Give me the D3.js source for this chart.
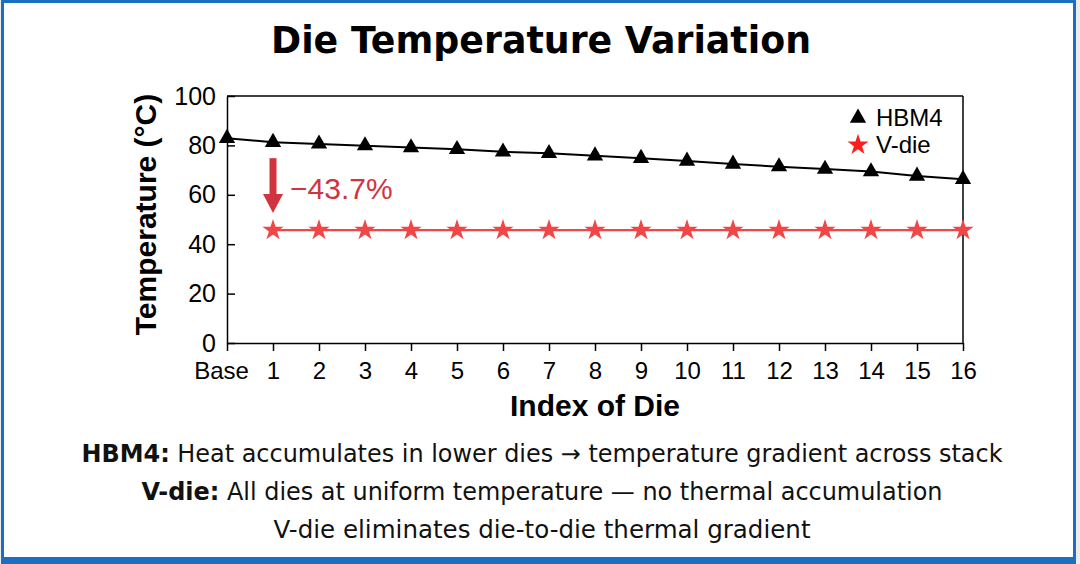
<!DOCTYPE html>
<html>
<head>
<meta charset="utf-8">
<script src="https://cdn.jsdelivr.net/npm/d3@7"></script>
<style>
  html, body { margin: 0; padding: 0; background: #fff; }
  svg { display: block; }
</style>
</head>
<body>
<div id="chart"></div>
<script>
// data
var dieLabels = ['Base', '1', '2', '3', '4', '5', '6', '7', '8', '9', '10', '11', '12', '13', '14', '15', '16'];
var hbm4Temp = [82.9, 81.3, 80.6, 79.9, 79.1, 78.4, 77.4, 76.8, 75.8, 74.8, 73.7, 72.5, 71.4, 70.4, 69.4, 67.6, 66.3];
var vdieLabels = ['1', '2', '3', '4', '5', '6', '7', '8', '9', '10', '11', '12', '13', '14', '15', '16'];
var vdieTemp = [45.7, 45.7, 45.7, 45.7, 45.7, 45.7, 45.7, 45.7, 45.7, 45.7, 45.7, 45.7, 45.7, 45.7, 45.7, 45.7];
var yTicks = [0, 20, 40, 60, 80, 100];
var reduction = '\u221243.7%';

var W = 1080, H = 564;
var axisFont = '"Liberation Sans", Arial, sans-serif';
var textFont = '"DejaVu Sans", Tahoma, sans-serif';
var red = '#f04646';
var annot = '#d0343f';

var svg = d3.select('#chart').append('svg')
  .attr('width', W)
  .attr('height', H);

// frame
svg.append('rect')
  .attr('x', 0).attr('y', 0).attr('width', W).attr('height', H)
  .attr('fill', '#ececec');
svg.append('rect')
  .attr('x', 1).attr('y', 0).attr('width', 1075).attr('height', 564)
  .attr('fill', '#1b6fc3');
svg.append('rect')
  .attr('x', 4).attr('y', 3).attr('width', 1069).attr('height', 554)
  .attr('fill', '#fff');

// title
svg.append('text')
  .attr('x', 541).attr('y', 53)
  .attr('text-anchor', 'middle')
  .attr('font-family', textFont)
  .attr('font-weight', 'bold')
  .attr('font-size', 37)
  .attr('textLength', 540)
  .attr('lengthAdjust', 'spacingAndGlyphs')
  .text('Die Temperature Variation');

var margin = { top: 96, right: 117, bottom: 221, left: 227 };

var x = d3.scalePoint()
  .domain(dieLabels)
  .range([margin.left, W - margin.right]);

var y = d3.scaleLinear()
  .domain([0, 100])
  .range([H - margin.bottom, margin.top]);

var g = svg.append('g');

// box top + right
g.append('line')
  .attr('x1', margin.left).attr('x2', W - margin.right)
  .attr('y1', y(100)).attr('y2', y(100))
  .attr('stroke', '#000').attr('stroke-width', 1.5);
g.append('line')
  .attr('x1', W - margin.right).attr('x2', W - margin.right)
  .attr('y1', y(100)).attr('y2', y(0))
  .attr('stroke', '#000').attr('stroke-width', 1.5);

var yAxis = g.append('g')
  .attr('transform', 'translate(' + margin.left + ',0)')
  .call(d3.axisLeft(y).tickValues(yTicks).tickSizeInner(-8).tickSizeOuter(0).tickPadding(11));
yAxis.selectAll('text')
  .attr('font-family', axisFont)
  .attr('font-size', 25)
  .attr('fill', '#000');

var xAxis = g.append('g')
  .attr('transform', 'translate(0,' + y(0) + ')')
  .call(d3.axisBottom(x).tickSizeInner(8).tickSizeOuter(0).tickPadding(11));
xAxis.selectAll('text')
  .attr('font-family', axisFont)
  .attr('font-size', 24)
  .attr('fill', '#000')
  .attr('dx', d => d === 'Base' ? -6 : 0);

g.selectAll('.domain, .tick line')
  .attr('stroke', '#000')
  .attr('stroke-width', 1.5);

// axis titles
svg.append('text')
  .attr('transform', 'translate(156,' + ((y(0) + y(100)) / 2 - 5) + ') rotate(-90)')
  .attr('text-anchor', 'middle')
  .attr('font-family', axisFont)
  .attr('font-weight', 'bold')
  .attr('font-size', 30)
  .text('Temperature (\u00b0C)');

svg.append('text')
  .attr('x', (x('Base') + x('16')) / 2)
  .attr('y', 416)
  .attr('text-anchor', 'middle')
  .attr('font-family', axisFont)
  .attr('font-weight', 'bold')
  .attr('font-size', 30)
  .text('Index of Die');

// series
var hbmLine = d3.line()
  .x((d, i) => x(dieLabels[i]))
  .y(d => y(d));
g.append('path')
  .datum(hbm4Temp)
  .attr('d', hbmLine)
  .attr('fill', 'none')
  .attr('stroke', '#000')
  .attr('stroke-width', 2);

var vLine = d3.line()
  .x((d, i) => x(vdieLabels[i]))
  .y(d => y(d));
g.append('path')
  .datum(vdieTemp)
  .attr('d', vLine)
  .attr('fill', 'none')
  .attr('stroke', red)
  .attr('stroke-width', 2.2);

var tri = d3.symbol().type(d3.symbolTriangle).size(115);
var star = d3.symbol().type(d3.symbolStar).size(140);

g.selectAll('.tri')
  .data(hbm4Temp)
  .enter()
  .append('path')
  .attr('class', 'tri')
  .attr('d', tri)
  .attr('transform', (d, i) => 'translate(' + x(dieLabels[i]) + ',' + y(d) + ')')
  .attr('fill', '#000');

g.selectAll('.star')
  .data(vdieTemp)
  .enter()
  .append('path')
  .attr('class', 'star')
  .attr('d', star)
  .attr('transform', (d, i) => 'translate(' + x(vdieLabels[i]) + ',' + y(d) + ')')
  .attr('fill', red);

// reduction arrow
var ax = x('1');
var aTop = y(hbm4Temp[1]) + 16;
var aTip = y(vdieTemp[0]) - 17;
g.append('rect')
  .attr('x', ax - 3.5).attr('y', aTop)
  .attr('width', 7).attr('height', aTip - aTop - 18)
  .attr('fill', annot);
g.append('path')
  .attr('d', 'M' + (ax - 10) + ',' + (aTip - 19) + 'L' + (ax + 10) + ',' + (aTip - 19) + 'L' + ax + ',' + aTip + 'Z')
  .attr('fill', annot);
g.append('text')
  .attr('x', ax + 17)
  .attr('y', 199)
  .attr('font-family', axisFont)
  .attr('font-size', 30)
  .attr('fill', annot)
  .text(reduction);

// legend
var lg = svg.append('g').attr('transform', 'translate(858,0)');
lg.append('path').attr('d', tri).attr('transform', 'translate(0,118)').attr('fill', '#000');
lg.append('text').attr('x', 18).attr('y', 126)
  .attr('font-family', axisFont).attr('font-size', 24).text('HBM4');
lg.append('path').attr('d', star).attr('transform', 'translate(0,145)').attr('fill', '#ff1e1e');
lg.append('text').attr('x', 18).attr('y', 153)
  .attr('font-family', axisFont).attr('font-size', 24).text('V-die');

// captions
var captions = [
  { bold: 'HBM4:', rest: ' Heat accumulates in lower dies \u2192 temperature gradient across stack', y: 461.5, w: 921 },
  { bold: 'V-die:', rest: ' All dies at uniform temperature \u2014 no thermal accumulation', y: 499.5, w: 801 },
  { bold: '', rest: 'V-die eliminates die-to-die thermal gradient', y: 537.5, w: 537 }
];
captions.forEach(c => {
  var t = svg.append('text')
    .attr('x', 542).attr('y', c.y)
    .attr('text-anchor', 'middle')
    .attr('font-family', textFont)
    .attr('font-size', 24)
    .attr('fill', '#111')
    .attr('textLength', c.w)
    .attr('lengthAdjust', 'spacingAndGlyphs');
  if (c.bold) t.append('tspan').attr('font-weight', 'bold').text(c.bold);
  t.append('tspan').text(c.rest);
});
</script>
</body>
</html>
